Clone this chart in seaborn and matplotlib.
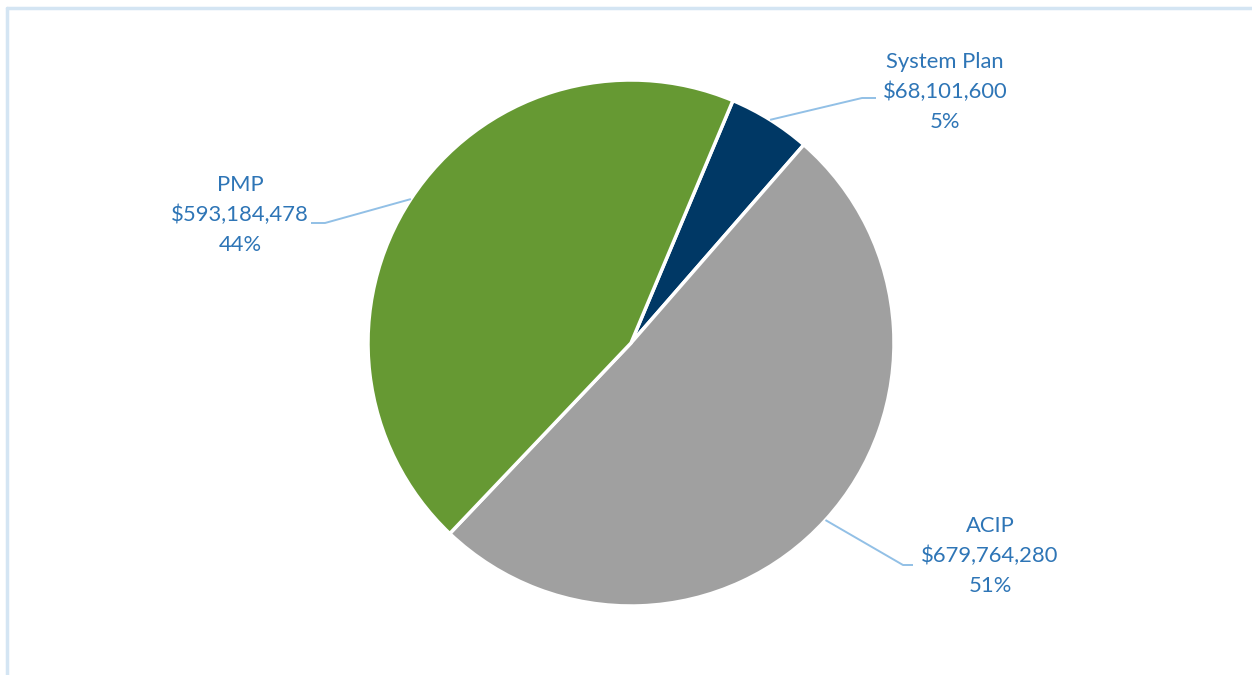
import numpy as np
import matplotlib
matplotlib.use("Agg")
import matplotlib.pyplot as plt
import seaborn as sns

# Data
categories = ["System Plan", "ACIP", "PMP"]
values = [68101600, 679764280, 593184478]
pct_labels = ["5%", "51%", "44%"]
colors = ["#003865", "#A0A0A0", "#669933"]

sns.set_theme(style="white")
plt.rcParams['font.family'] = ['Lato', 'DejaVu Sans']

W, H = 1252, 675
fig = plt.figure(figsize=(W / 100, H / 100), dpi=100)
ax = fig.add_axes([0, 0, 1, 1])

cx, cy, R = 631, H - 343, 263
start_from_top = 22.8  # degrees clockwise from 12 o'clock
wedges, _ = ax.pie(values, colors=colors, startangle=90 - start_from_top,
                   counterclock=False, radius=R, center=(cx, cy),
                   wedgeprops=dict(edgecolor="white", linewidth=2.5))
ax.set_xlim(0, W)
ax.set_ylim(0, H)
ax.set_aspect('equal')
ax.axis('off')

text_color = "#2E75B6"
line_color = "#92C0E6"
# label layout: (text center x, text center y in px), (elbow x, y px), (end x)
layout = {
    "System Plan": ((945, 92), (862, 98), 876),
    "ACIP": ((990, 556), (903, 565), 913),
    "PMP": ((240, 215), (325, 223), 311),
}
for w, cat, v, p in zip(wedges, categories, values, pct_labels):
    mid = np.deg2rad((w.theta1 + w.theta2) / 2)
    sx, sy = cx + R * np.cos(mid), cy + R * np.sin(mid)
    (tx, ty), (ex, ey), endx = layout[cat]
    ax.plot([sx, ex, endx], [sy, H - ey, H - ey], color=line_color, lw=1.4,
            solid_capstyle='butt')
    ax.text(tx, H - ty, f"{cat}\n${v:,.0f}\n{p}", ha='center', va='center',
            color=text_color, fontsize=15.8, linespacing=1.6)

# chart border (top and left visible)
ax.plot([7, W], [H - 8, H - 8], color="#D4E5F3", lw=2.5, clip_on=False)
ax.plot([7, 7], [H - 8, 0], color="#D4E5F3", lw=2.5, clip_on=False)

fig.savefig("out.png", dpi=100, facecolor="white")
